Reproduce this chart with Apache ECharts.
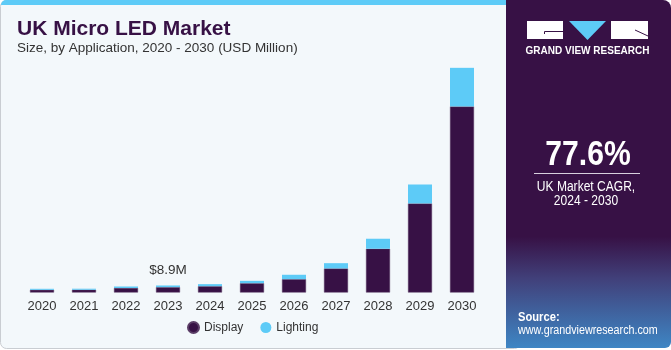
<!DOCTYPE html>
<html lang="en" style="height: 100%">
<head>
  <meta charset="utf-8">
</head>
<body style="height: 100%; margin: 0; background: #ffffff">
  <div id="container" style="width: 671px; height: 350px"></div>
  <script type="text/javascript" src="https://fastly.jsdelivr.net/npm/echarts@6/dist/echarts.min.js"></script>
  <script type="text/javascript">
var years = ['2020', '2021', '2022', '2023', '2024', '2025', '2026', '2027', '2028', '2029', '2030'];
var display = [3.4, 3.5, 5.7, 6.8, 8.0, 11.8, 16.9, 30.5, 55.5, 113, 236];
var lighting = [1.3, 1.3, 1.9, 2.1, 2.6, 3.0, 5.6, 6.7, 12.7, 24, 49];
var callout = { index: 3, text: '$8.9M' };

var dark = '#371145';
var cyan = '#5dcbf7';
var font = 'Liberation Sans, Arial, sans-serif';

var dom = document.getElementById('container');
var myChart = echarts.init(dom, null, { renderer: 'canvas' });

// narrow-ish white text for the right panel
function panelText(str, x, y, size, weight, align) {
  return {
    type: 'text', x: x, y: y, scaleX: 0.86,
    style: {
      text: str, fill: '#ffffff',
      font: (weight || 'normal') + ' ' + size + 'px ' + font,
      align: align || 'center', verticalAlign: 'middle'
    }
  };
}

var option = {
  backgroundColor: '#ffffff',
  animation: false,
  textStyle: { fontFamily: font },
  graphic: [
    // left panel
    {
      type: 'rect', z: -10,
      shape: { x: 0.5, y: 0.5, width: 520, height: 348, r: 6 },
      style: { fill: '#f3f8fb', stroke: '#c9cdd2', lineWidth: 1 }
    },
    {
      type: 'rect', z: -9,
      shape: { x: 1, y: 0, width: 510, height: 5, r: [5, 0, 0, 0] },
      style: { fill: '#5dcbf7' }
    },
    // right panel
    {
      type: 'rect', z: -8,
      shape: { x: 506, y: 0, width: 165, height: 348, r: [0, 8, 6, 0] },
      style: {
        fill: new echarts.graphic.LinearGradient(0, 0, 0, 1, [
          { offset: 0, color: '#371145' },
          { offset: 0.68, color: '#371145' },
          { offset: 0.80, color: '#41407a' },
          { offset: 1, color: '#3e86c4' }
        ])
      }
    },
    // logo
    { type: 'rect', shape: { x: 527, y: 21, width: 36, height: 18 }, style: { fill: '#ffffff' } },
    { type: 'polyline', shape: { points: [[544.5, 34], [544.5, 31.5], [563, 31.5]] }, style: { stroke: dark, lineWidth: 1, fill: null } },
    { type: 'polygon', shape: { points: [[569, 21], [606, 21], [587.5, 40]] }, style: { fill: cyan } },
    { type: 'rect', shape: { x: 611, y: 21, width: 37, height: 18 }, style: { fill: '#ffffff' } },
    { type: 'line', shape: { x1: 635, y1: 30, x2: 648, y2: 36 }, style: { stroke: dark, lineWidth: 1 } },
    {
      type: 'text', x: 587.5, y: 51,
      style: { text: 'GRAND VIEW RESEARCH', fill: '#ffffff', font: 'bold 10px ' + font, align: 'center', verticalAlign: 'middle' }
    },
    panelText('77.6%', 588, 155, 35, 'bold'),
    { type: 'line', shape: { x1: 534, y1: 173.5, x2: 640, y2: 173.5 }, style: { stroke: '#d8d0de', lineWidth: 1 } },
    panelText('UK Market CAGR,', 586, 187, 14),
    panelText('2024 - 2030', 586, 201, 14),
    panelText('Source:', 518, 317, 13, 'bold', 'left'),
    panelText('www.grandviewresearch.com', 518, 331, 12.5, 'normal', 'left'),
    // titles
    {
      type: 'text', left: 17, top: 19,
      style: { text: 'UK Micro LED Market', fill: dark, font: 'bold 21px ' + font }
    },
    {
      type: 'text', left: 17, top: 41,
      style: { text: 'Size, by Application, 2020 - 2030 (USD Million)', fill: '#333333', font: '13.5px ' + font }
    }
  ],
  legend: {
    data: ['Display', 'Lighting'],
    left: 182,
    top: 316,
    icon: 'circle',
    itemWidth: 11,
    itemHeight: 11,
    itemGap: 17,
    textStyle: { fontSize: 12, color: '#333333' }
  },
  grid: { left: 21, right: 188, top: 56, bottom: 57.5 },
  xAxis: {
    type: 'category',
    data: years,
    axisLine: { show: false },
    axisTick: { show: false },
    axisLabel: { color: '#333333', fontSize: 13, margin: 7 }
  },
  yAxis: {
    type: 'value',
    min: 0,
    max: 300,
    show: false
  },
  series: [
    {
      name: 'Display',
      type: 'bar',
      stack: 'total',
      barWidth: 24,
      itemStyle: { color: dark, borderColor: '#5a3d66', borderWidth: 0.5 },
      data: display
    },
    {
      name: 'Lighting',
      type: 'bar',
      stack: 'total',
      barWidth: 24,
      itemStyle: { color: cyan },
      label: {
        show: true,
        position: 'top',
        distance: 8,
        color: '#333333',
        fontSize: 13.5,
        formatter: function (p) {
          return p.dataIndex === callout.index ? callout.text : '';
        }
      },
      data: lighting
    }
  ]
};

myChart.setOption(option);
  </script>
</body>
</html>
